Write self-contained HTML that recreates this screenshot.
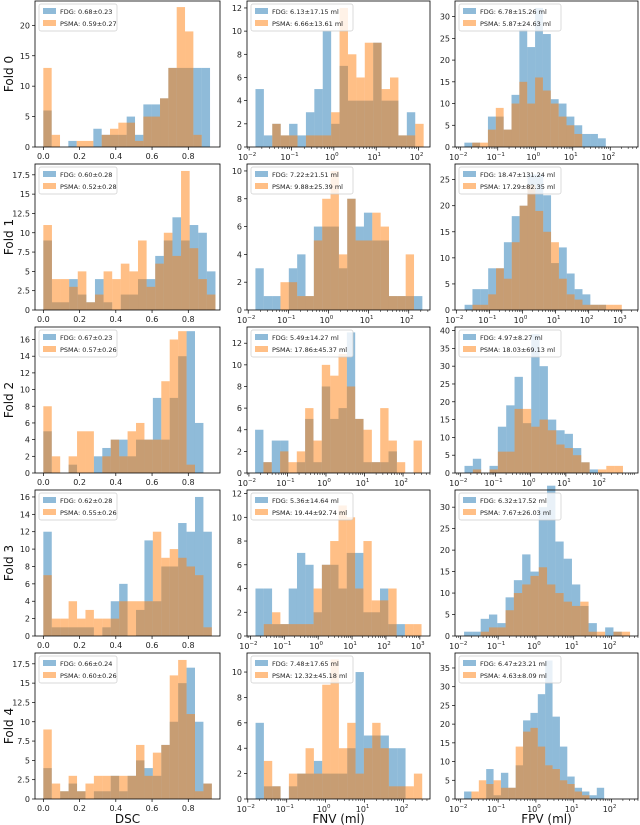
<!DOCTYPE html>
<html><head><meta charset="utf-8">
<style>
html,body{margin:0;padding:0;background:#fff;}
svg{display:block;font-family:"DejaVu Sans","Liberation Sans",sans-serif;}
</style></head>
<body>
<svg id="fig" width="640" height="825" viewBox="0 0 640 825" xmlns="http://www.w3.org/2000/svg"></svg>
<script>
// ---- data ----
const folds = ["Fold 0","Fold 1","Fold 2","Fold 3","Fold 4"];
const dscMax = [0.92,0.95,0.93,0.93,0.93];
const dscYMax = [24,18.9,17.5,16.8,18.9];
const dscYTicks = [[0,5,10,15,20],[0,2.5,5,7.5,10,12.5,15,17.5],[0,2,4,6,8,10,12,14,16],[0,2,4,6,8,10,12,14,16],[0,2.5,5,7.5,10,12.5,15,17.5]];
const dscBlue = [
 [6,0,0,1,0,0,3,2,2,2,5,2,7,7,8,13,13,13,13,13],
 [9,1,1,4,2,1,4,1,0,2,2,4,4,7,9,12,9,11,10,5],
 [5,0,0,1,0,0,2,3,4,4,2,4,4,9,4,9,14,17,6,0],
 [12,1,1,1,1,1,0,1,4,6,0,3,11,4,8,8,13,12,16,12],
 [4,0,1,2,1,0,1,1,3,1,3,5,4,3,7,10,15,17,10,2]];
const dscOrange = [
 [13,2,0,0,1,1,0,2,3,4,4,1,5,5,8,13,23,19,2,0],
 [11,4,4,3,5,1,2,5,4,6,5,9,3,6,10,7,18,8,4,2],
 [8,2,0,2,5,5,0,2,4,2,5,6,4,4,11,16,17,1,0,0],
 [7,2,2,4,2,3,2,2,2,4,4,4,4,12,9,10,9,8,7,1],
 [9,2,1,3,1,2,3,3,3,3,3,7,3,6,7,16,18,11,1,2]];
const dscLegend = [["0.68±0.23","0.59±0.27"],["0.60±0.28","0.52±0.28"],["0.67±0.23","0.57±0.26"],["0.62±0.28","0.55±0.26"],["0.66±0.24","0.60±0.26"]];

const fnvAxis = [[-2.05,2.27],[-2.03,2.53],[-2.05,2.7],[-2.1,3.3],[-2.02,2.68]];
const fnvData = [[-1.85,2.12],[-1.82,2.34],[-1.84,2.49],[-1.85,3.05],[-1.8,2.48]];
const fnvYMax = [12.6,10.5,13.5,12.3,11.5];
const fnvYTicks = [[0,2,4,6,8,10,12],[0,2,4,6,8,10],[0,2,4,6,8,10,12],[0,2,4,6,8,10,12],[0,2,4,6,8,10]];
const fnvXTicks = [[-2,-1,0,1,2],[-2,-1,0,1,2],[-2,-1,0,1,2],[-2,-1,0,1,2,3],[-2,-1,0,1,2]];
const fnvBlue = [
 [5,1,2,1,2,1,3,5,10,2,7,4,4,4,9,4,4,1,3,0],
 [3,1,1,0,3,4,1,6,6,6,3,8,6,7,5,5,1,1,1,1],
 [4,1,3,3,0,1,5,1,8,5,6,13,5,1,1,1,2,0,0,0],
 [4,4,1,1,4,7,6,2,6,6,4,7,7,2,2,4,1,1,0,0],
 [6,1,1,0,1,2,2,3,2,2,2,4,10,5,5,5,4,4,0,0]];
const fnvOrange = [
 [0,0,2,1,1,0,1,1,1,3,12,8,6,9,9,5,6,1,1,2],
 [0,0,0,2,2,1,1,5,8,10,4,8,5,5,7,6,1,1,4,0],
 [0,1,0,2,1,2,6,3,10,9,11,8,5,4,1,6,3,1,0,3],
 [0,1,2,1,1,1,1,4,6,8,11,10,4,8,3,3,4,0,1,1],
 [0,3,1,0,2,2,4,2,9,11,4,6,2,4,6,4,1,1,1,2]];
const fnvLegend = [["6.13±17.15 ml","6.66±13.61 ml"],["7.22±21.51 ml","9.88±25.39 ml"],["5.49±14.27 ml","17.86±45.37 ml"],["5.36±14.64 ml","19.44±92.74 ml"],["7.48±17.65 ml","12.32±45.18 ml"]];

const fpvAxis = [[-2.14,2.74],[-2.04,3.49],[-2.15,3.05],[-2.14,2.7],[-2.14,2.7]];
const fpvData = [[-1.89,2.3],[-1.75,3.0],[-1.88,2.86],[-1.9,2.49],[-1.9,2.0]];
const fpvYMax = [33.6,28,41,34,39];
const fpvYTicks = [[0,5,10,15,20,25,30],[0,5,10,15,20,25],[0,5,10,15,20,25,30,35,40],[0,5,10,15,20,25,30],[0,5,10,15,20,25,30,35]];
const fpvXTicks = [[-2,-1,0,1,2],[-2,-1,0,1,2,3],[-2,-1,0,1,2],[-2,-1,0,1,2],[-2,-1,0,1,2]];
const fpvBlue = [
 [1,1,0,7,7,4,12,27,23,32,26,11,10,7,5,3,3,2,0,0],
 [1,4,4,8,8,13,18,20,26,26,22,9,12,7,4,3,1,1,0,0],
 [2,4,0,2,13,19,27,14,39,30,15,12,11,7,3,1,0,0,0,0],
 [1,1,4,5,3,9,13,19,15,30,35,22,18,12,7,3,0,2,1,0],
 [2,0,0,8,1,7,3,9,21,23,28,37,22,14,6,3,2,1,3,0]];
const fpvOrange = [
 [0,1,1,4,9,4,10,15,10,16,13,10,7,5,3,0,0,0,0,0],
 [0,1,1,3,8,6,13,20,24,19,15,13,6,3,2,1,1,1,1,1],
 [0,1,0,1,6,6,18,18,13,15,12,8,7,5,3,0,1,2,2,0],
 [0,0,1,2,2,6,10,12,14,16,12,10,8,7,8,1,1,0,1,1],
 [0,2,5,4,5,3,3,14,18,19,14,9,8,5,4,2,1,0,0,0]];
const fpvLegend = [["6.78±15.26 ml","5.87±24.63 ml"],["18.47±131.24 ml","17.29±82.35 ml"],["4.97±8.27 ml","18.03±69.13 ml"],["6.32±17.52 ml","7.67±26.03 ml"],["6.47±23.21 ml","4.63±8.09 ml"]];

const dscXTicks = [0,0.2,0.4,0.6,0.8];
const xTitles = ["DSC","FNV (ml)","FPV (ml)"];

// ---- layout ----
const NS = "http://www.w3.org/2000/svg";
const svg = document.getElementById("fig");
const colX = [35,247,455], colW = [185,183,183];
const rowTop = [1,164,327,490,653], rowH = 146;
const BLUE = "#1f77b4", ORANGE = "#ff7f0e";

function el(tag, attrs, parent){
  const e = document.createElementNS(NS, tag);
  for (const k in attrs) e.setAttribute(k, attrs[k]);
  (parent||svg).appendChild(e);
  return e;
}
function fmtY(v){ return (Number.isInteger(v) ? String(v) : v.toFixed(1)); }

function panel(r, c, cfg){
  const x0 = colX[c], w = colW[c], y0 = rowTop[r], h = rowH;
  const g = el("g", {});
  
  
  const xs = v => x0 + (v - cfg.ax0) / (cfg.ax1 - cfg.ax0) * w;
  const ys = v => y0 + h - v / cfg.yMax * h;
  const n = cfg.blue.length;
  const edge = i => cfg.d0 + i * (cfg.d1 - cfg.d0) / n;
  [[cfg.blue, BLUE, 'blue'], [cfg.orange, ORANGE, 'orange']].forEach(([arr, col, nm]) => {
    arr.forEach((v, i) => {
      if (!v) return;
      const xa = xs(edge(i)), xb = xs(edge(i+1));
      const b = el("rect", {x: xa, y: ys(v), width: xb - xa, height: ys(0) - ys(v), fill: col, "fill-opacity": 0.5}, g);
      
      
    });
  });
  const frame = el("rect", {x: x0, y: y0, width: w, height: h, fill: "none", stroke: "#000", "stroke-width": 0.8}, g);
  
  
  cfg.yTicks.forEach(t => {
    const y = ys(t);
    el("line", {x1: x0 - 3, x2: x0, y1: y, y2: y, stroke: "#000", "stroke-width": 0.7}, g);
    const tx = el("text", {x: x0 - 5, y: y + 3, "font-size": 8, "text-anchor": "end", fill: "#222"}, g);
    tx.textContent = fmtY(t);
    
    
  });
  const yb = y0 + h;
  if (!cfg.log) {
    cfg.xTicks.forEach(t => {
      const x = xs(t);
      el("line", {x1: x, x2: x, y1: yb, y2: yb + 3, stroke: "#000", "stroke-width": 0.7}, g);
      const tx = el("text", {x: x, y: yb + 12, "font-size": 8, "text-anchor": "middle", fill: "#222"}, g);
      tx.textContent = t.toFixed(1);
      
      
    });
  } else {
    for (let d = Math.floor(cfg.ax0); d <= Math.ceil(cfg.ax1); d++) {
      for (let m = 2; m <= 9; m++) {
        const lv = d + Math.log10(m);
        if (lv <= cfg.ax0 || lv >= cfg.ax1) continue;
        const x = xs(lv);
        el("line", {x1: x, x2: x, y1: yb, y2: yb + 2, stroke: "#000", "stroke-width": 0.5}, g);
      }
    }
    cfg.xTicks.forEach(t => {
      const x = xs(t);
      el("line", {x1: x, x2: x, y1: yb, y2: yb + 3.5, stroke: "#000", "stroke-width": 0.7}, g);
      const tx = el("text", {x: x - 2, y: yb + 13, "font-size": 8, "text-anchor": "middle", fill: "#222"}, g);
      
      
      const a = document.createElementNS(NS, "tspan"); a.textContent = "10"; tx.appendChild(a);
      const s = document.createElementNS(NS, "tspan");
      s.setAttribute("dy", -4); s.setAttribute("font-size", 5.5);
      s.textContent = t < 0 ? "\u2212" + (-t) : String(t); tx.appendChild(s);
    });
  }
  const lw = c === 0 ? 78 : 102;
  const lg = el("g", {}, g);
  
  
  el("rect", {x: x0 + 4, y: y0 + 3, width: lw, height: 27, rx: 2, fill: "#fff", "fill-opacity": 0.8, stroke: "#ccc", "stroke-width": 0.7}, lg);
  [[BLUE, "FDG: " + cfg.legend[0]], [ORANGE, "PSMA: " + cfg.legend[1]]].forEach(([col, txt], k) => {
    const yy = y0 + 7 + k * 12;
    el("rect", {x: x0 + 8, y: yy, width: 13, height: 6, fill: col, "fill-opacity": 0.5}, lg);
    const t = el("text", {x: x0 + 25, y: yy + 6, "font-size": 6.5, fill: "#222"}, lg);
    t.textContent = txt;
    
    
  });
}

for (let r = 0; r < 5; r++) {
  panel(r, 0, {log: false, ax0: -0.046, ax1: 0.975, d0: 0, d1: dscMax[r], yMax: dscYMax[r], yTicks: dscYTicks[r], xTicks: dscXTicks, blue: dscBlue[r], orange: dscOrange[r], legend: dscLegend[r]});
  panel(r, 1, {log: true, ax0: fnvAxis[r][0], ax1: fnvAxis[r][1], d0: fnvData[r][0], d1: fnvData[r][1], yMax: fnvYMax[r], yTicks: fnvYTicks[r], xTicks: fnvXTicks[r], blue: fnvBlue[r], orange: fnvOrange[r], legend: fnvLegend[r]});
  panel(r, 2, {log: true, ax0: fpvAxis[r][0], ax1: fpvAxis[r][1], d0: fpvData[r][0], d1: fpvData[r][1], yMax: fpvYMax[r], yTicks: fpvYTicks[r], xTicks: fpvXTicks[r], blue: fpvBlue[r], orange: fpvOrange[r], legend: fpvLegend[r]});
  const fy = rowTop[r] + rowH / 2;
  const fl = el("text", {x: 13, y: fy, "font-size": 12, "text-anchor": "middle", transform: "rotate(-90 13 " + fy + ")", fill: "#111"});
  fl.textContent = folds[r];
  
  
}
xTitles.forEach((t, c) => {
  const tx = el("text", {x: colX[c] + colW[c] / 2, y: 823, "font-size": 12, "text-anchor": "middle", fill: "#111"});
  tx.textContent = t;
  
  
});
</script>
</body></html>
